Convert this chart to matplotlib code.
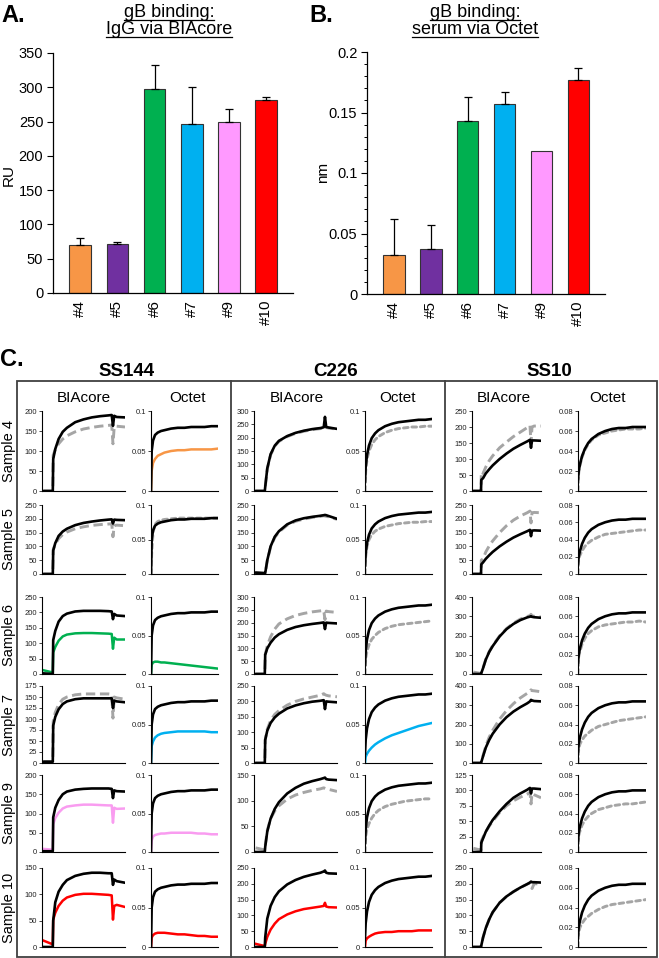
import matplotlib
matplotlib.use("Agg")
import matplotlib.pyplot as plt
from matplotlib.lines import Line2D
from matplotlib.patches import Rectangle
from matplotlib.ticker import MultipleLocator, FormatStrFormatter
import numpy as np

plt.rcParams['font.family'] = ['Liberation Sans', 'DejaVu Sans']

W, H = 659, 958

# ---- panels A / B ----
samples = ['#4', '#5', '#6', '#7', '#9', '#10']
bar_colors = ['#F79646', '#7030A0', '#00B050', '#00B0F0', '#FF99FF', '#FF0000']
biacore_ru = [70, 71, 297, 247, 250, 282]
biacore_err = [10, 3, 35, 53, 19, 4]
octet_nm = [0.032, 0.037, 0.143, 0.157, 0.118, 0.177]
octet_err = [0.030, 0.020, 0.020, 0.010, 0.0, 0.010]

# ---- panel C ----
groups = ['SS144', 'C226', 'SS10']
row_labels = ['Sample 4', 'Sample 5', 'Sample 6', 'Sample 7', 'Sample 9', 'Sample 10']
t_bia = [0.02, 0.13, 0.135, 0.16, 0.2, 0.25, 0.3, 0.4, 0.5, 0.6, 0.7, 0.8, 0.84, 0.855, 0.87, 0.9, 1.0]
t_oct = [0, 0.01, 0.03, 0.06, 0.1, 0.15, 0.2, 0.3, 0.4, 0.5, 0.6, 0.7, 0.8, 0.9, 1.0]

GR = 'gray'
ss144_bia_ymax = [200, 250, 250, 175, 200, 150]
ss144_bia_step = [50, 50, 50, 25, 50, 50]
ss144_bia_ref = [
    [0, 0, 80, 105, 130, 148, 158, 172, 179, 184, 187, 189, 190, 163, 188, 185, 184],
    [0, 0, 85, 112, 138, 154, 164, 177, 185, 190, 194, 197, 198, 183, 197, 196, 195],
    [2, 0, 110, 140, 170, 188, 196, 203, 205, 205, 205, 204, 203, 178, 195, 190, 188],
    [3, 3, 85, 105, 122, 134, 140, 145, 147, 147, 147, 147, 147, 125, 142, 140, 138],
    [2, 2, 90, 115, 135, 150, 157, 162, 164, 165, 165, 165, 164, 140, 160, 158, 157],
    [0, 0, 50, 85, 105, 118, 127, 135, 139, 141, 141, 140, 140, 118, 128, 125, 122],
]
ss144_bia_smp = [
    [0, 0, 90, 103, 118, 130, 138, 148, 155, 159, 162, 164, 165, 118, 160, 162, 160],
    [0, 0, 88, 108, 128, 143, 152, 164, 171, 176, 179, 181, 182, 135, 175, 177, 175],
    [12, 5, 70, 88, 108, 122, 128, 132, 133, 133, 132, 131, 130, 82, 118, 112, 112],
    [3, 3, 95, 115, 133, 145, 150, 155, 157, 157, 157, 157, 156, 102, 150, 148, 145],
    [8, 6, 72, 88, 102, 113, 118, 121, 123, 123, 122, 121, 121, 76, 115, 112, 113],
    [12, 5, 52, 65, 78, 88, 94, 99, 101, 101, 100, 99, 98, 52, 78, 80, 76],
]
ss144_bia_col = [GR, GR, '#00B050', GR, '#F99CF0', '#FF0000']

ss144_oct_ref = [0, 0.05, 0.063, 0.07, 0.073, 0.075, 0.076, 0.078, 0.079, 0.079, 0.08, 0.08, 0.08, 0.081, 0.081]
ss144_oct_smp = [
    [0, 0.025, 0.035, 0.04, 0.044, 0.046, 0.048, 0.05, 0.051, 0.051, 0.052, 0.052, 0.052, 0.052, 0.053],
    [0, 0.03, 0.06, 0.072, 0.076, 0.078, 0.079, 0.08, 0.081, 0.081, 0.081, 0.081, 0.081, 0.081, 0.081],
    [0, 0.012, 0.015, 0.016, 0.016, 0.015, 0.015, 0.014, 0.013, 0.012, 0.011, 0.010, 0.009, 0.008, 0.007],
    [0, 0.022, 0.028, 0.033, 0.036, 0.038, 0.039, 0.04, 0.041, 0.041, 0.041, 0.041, 0.041, 0.040, 0.040],
    [0, 0.015, 0.02, 0.022, 0.023, 0.024, 0.024, 0.025, 0.025, 0.025, 0.025, 0.024, 0.024, 0.023, 0.023],
    [0, 0.012, 0.015, 0.017, 0.018, 0.018, 0.018, 0.017, 0.016, 0.016, 0.015, 0.014, 0.014, 0.013, 0.013],
]
ss144_oct_col = ['#F79646', GR, '#00B050', '#00B0F0', '#F99CF0', '#FF0000']

c226_bia_ymax = [300, 250, 300, 250, 150, 250]
c226_bia_step = [50, 50, 50, 50, 50, 50]
c226_bia_ref = [
    [0, 0, 15, 85, 138, 170, 188, 206, 218, 226, 232, 236, 239, 278, 240, 238, 233],
    [5, 3, 3, 50, 100, 135, 155, 180, 194, 202, 207, 211, 213, 214, 213, 210, 200],
    [0, 0, 75, 100, 122, 142, 155, 172, 183, 190, 195, 199, 201, 175, 200, 199, 197],
    [0, 0, 75, 105, 130, 148, 160, 177, 187, 194, 199, 202, 204, 175, 200, 199, 197],
    [0, 0, 10, 40, 65, 84, 97, 114, 125, 133, 138, 142, 144, 145, 142, 141, 140],
    [0, 0, 30, 90, 130, 158, 176, 198, 212, 222, 229, 235, 239, 242, 235, 233, 232],
]
c226_bia_smp = [
    [0, 0, 15, 82, 135, 168, 186, 204, 216, 224, 230, 234, 237, 245, 238, 236, 232],
    [5, 3, 3, 48, 98, 132, 152, 177, 191, 199, 205, 209, 211, 210, 209, 207, 198],
    [0, 0, 75, 110, 145, 175, 195, 215, 228, 236, 242, 246, 248, 212, 245, 243, 240],
    [0, 0, 75, 110, 138, 158, 170, 188, 200, 208, 214, 220, 225, 222, 220, 218, 215],
    [8, 4, 12, 42, 65, 80, 90, 103, 111, 116, 120, 123, 125, 124, 123, 122, 118],
    [10, 3, 10, 32, 55, 74, 88, 103, 113, 120, 124, 128, 130, 140, 128, 126, 125],
]
c226_bia_col = [GR, GR, GR, GR, GR, '#FF0000']

c226_oct_ref = [0.012, 0.03, 0.045, 0.057, 0.066, 0.072, 0.076, 0.081, 0.084, 0.086, 0.087, 0.088, 0.089, 0.089, 0.09]
c226_oct_smp = [
    [0, 0.025, 0.04, 0.05, 0.058, 0.064, 0.068, 0.073, 0.076, 0.078, 0.079, 0.08, 0.08, 0.081, 0.081],
    [0, 0.025, 0.04, 0.05, 0.057, 0.062, 0.065, 0.069, 0.071, 0.073, 0.074, 0.075, 0.075, 0.076, 0.076],
    [0, 0.02, 0.03, 0.038, 0.045, 0.05, 0.054, 0.059, 0.062, 0.064, 0.065, 0.066, 0.067, 0.068, 0.069],
    [0, 0.008, 0.012, 0.016, 0.02, 0.024, 0.027, 0.032, 0.036, 0.039, 0.042, 0.045, 0.048, 0.05, 0.052],
    [0, 0.02, 0.03, 0.037, 0.044, 0.05, 0.054, 0.059, 0.062, 0.064, 0.066, 0.067, 0.068, 0.069, 0.069],
    [0, 0.008, 0.011, 0.013, 0.015, 0.017, 0.018, 0.019, 0.019, 0.02, 0.02, 0.02, 0.021, 0.021, 0.021],
]
c226_oct_col = [GR, GR, GR, '#00B0F0', GR, '#FF0000']

ss10_bia_ymax = [250, 250, 400, 400, 125, 250]
ss10_bia_step = [50, 50, 100, 100, 25, 50]
ss10_bia_ref = [
    [0, 0, 35, 40, 55, 68, 80, 100, 117, 132, 144, 155, 160, 135, 158, 158, 157],
    [0, 0, 35, 42, 55, 68, 80, 100, 117, 132, 144, 155, 160, 137, 157, 158, 157],
    [0, 0, 5, 30, 75, 115, 145, 195, 233, 260, 280, 294, 298, 300, 297, 295, 292],
    [0, 0, 5, 35, 80, 120, 152, 200, 238, 267, 290, 310, 320, 328, 325, 322, 320],
    [0, 0, 15, 22, 33, 43, 52, 66, 78, 88, 95, 101, 104, 95, 103, 103, 102],
    [0, 0, 5, 30, 60, 88, 110, 140, 160, 175, 188, 199, 204, 207, 205, 205, 204],
]
ss10_bia_smp = [
    [0, 0, 60, 55, 75, 95, 110, 135, 153, 170, 184, 198, 205, 150, 200, 203, 203],
    [0, 0, 50, 55, 80, 102, 120, 150, 175, 195, 210, 222, 228, 185, 222, 223, 222],
    [10, 3, 5, 32, 77, 117, 148, 198, 236, 264, 285, 299, 303, 310, 302, 300, 296],
    [0, 0, 5, 38, 88, 135, 170, 228, 272, 308, 338, 362, 372, 380, 376, 375, 370],
    [6, 3, 18, 24, 33, 42, 50, 64, 75, 83, 89, 94, 97, 78, 95, 93, 88],
    [0, 0, 5, 30, 60, 88, 110, 140, 160, 175, 188, 199, 203, 200, 185, 200, 200],
]
ss10_bia_col = [GR] * 6

ss10_oct_ref = [0.012, 0.02, 0.027, 0.035, 0.042, 0.048, 0.052, 0.057, 0.06, 0.062, 0.063, 0.063, 0.064, 0.064, 0.064]
ss10_oct_smp = [
    [0, 0.018, 0.026, 0.034, 0.041, 0.047, 0.051, 0.056, 0.058, 0.06, 0.061, 0.062, 0.062, 0.062, 0.063],
    [0, 0.018, 0.022, 0.027, 0.032, 0.036, 0.039, 0.043, 0.046, 0.047, 0.048, 0.049, 0.05, 0.051, 0.051],
    [0, 0.018, 0.024, 0.031, 0.037, 0.042, 0.045, 0.049, 0.051, 0.052, 0.053, 0.054, 0.054, 0.055, 0.054],
    [0, 0.015, 0.02, 0.024, 0.028, 0.031, 0.034, 0.038, 0.04, 0.042, 0.044, 0.045, 0.046, 0.047, 0.048],
    [0, 0.017, 0.022, 0.028, 0.033, 0.037, 0.04, 0.044, 0.046, 0.048, 0.049, 0.05, 0.05, 0.051, 0.052],
    [0, 0.015, 0.02, 0.024, 0.028, 0.031, 0.034, 0.038, 0.041, 0.043, 0.044, 0.045, 0.046, 0.047, 0.048],
]
ss10_oct_col = [GR] * 6

fig = plt.figure(figsize=(W / 100, H / 100), dpi=100)


def px_axes(x0, y0, x1, y1):
    return fig.add_axes([x0 / W, 1 - y1 / H, (x1 - x0) / W, (y1 - y0) / H])


def ftext(x, y, s, **kw):
    return fig.text(x / W, 1 - y / H, s, **kw)


def bar_panel(ax, vals, errs, ymax, step):
    x = np.arange(len(vals))
    ax.bar(x, vals, width=0.58, color=bar_colors, edgecolor='#333333', linewidth=0.8, zorder=2)
    idx = [i for i in x if errs[i] > 0]
    ax.errorbar([x[i] for i in idx], [vals[i] for i in idx],
                yerr=[[0] * len(idx), [errs[i] for i in idx]],
                fmt='none', ecolor='black', elinewidth=0.9, capsize=3, capthick=0.9, zorder=3)
    ax.set_xlim(-0.73, 5.72)
    ax.set_ylim(0, ymax)
    ax.yaxis.set_major_locator(MultipleLocator(step))
    ax.set_xticks(x, samples, rotation=90)
    ax.tick_params(axis='x', length=0, pad=5, labelsize=11)
    ax.tick_params(axis='y', length=4, width=0.8, labelsize=10.5, pad=3)
    for s in ['top', 'right']:
        ax.spines[s].set_visible(False)
    for s in ['left', 'bottom']:
        ax.spines[s].set_linewidth(0.9)


axA = px_axes(53, 53, 293, 293)
bar_panel(axA, biacore_ru, biacore_err, 350, 50)
axB = px_axes(367, 52, 605, 294)
bar_panel(axB, octet_nm, octet_err, 0.2, 0.05)
axB.yaxis.set_minor_locator(MultipleLocator(0.01))
axB.tick_params(axis='y', which='minor', length=2.5, width=0.7)
axB.set_yticks([0, 0.05, 0.1, 0.15, 0.2], ['0', '0.05', '0.1', '0.15', '0.2'])

ftext(9, 175, 'RU', rotation=90, ha='center', va='center', fontsize=11)
ftext(323, 172, 'nm', rotation=90, ha='center', va='center', fontsize=11)

ftext(1, 16, 'A.', fontsize=17, fontweight='bold', va='center')
ftext(309, 16, 'B.', fontsize=17, fontweight='bold', va='center')
ftext(0, 360, 'C.', fontsize=17, fontweight='bold', va='center')

title_lines = []
for cx, lines in [(169, ['gB binding:', 'IgG via BIAcore']), (475, ['gB binding:', 'serum via Octet'])]:
    for yb, s in zip([17, 34], lines):
        title_lines.append(ftext(cx, yb, s, ha='center', va='baseline', fontsize=13))

# ---- panel C layout ----
col_x = [(42, 125), (151, 218), (254, 337), (365, 432), (472, 541), (578, 646)]
row_y = [(411, 491), (505, 574), (597, 674), (686, 763), (775, 852), (868, 947)]

columns = [
    ('bia', ss144_bia_ref, ss144_bia_smp, ss144_bia_col, ss144_bia_ymax, ss144_bia_step),
    ('oct', ss144_oct_ref, ss144_oct_smp, ss144_oct_col, [0.1] * 6, [0.05] * 6),
    ('bia', c226_bia_ref, c226_bia_smp, c226_bia_col, c226_bia_ymax, c226_bia_step),
    ('oct', c226_oct_ref, c226_oct_smp, c226_oct_col, [0.1] * 6, [0.05] * 6),
    ('bia', ss10_bia_ref, ss10_bia_smp, ss10_bia_col, ss10_bia_ymax, ss10_bia_step),
    ('oct', ss10_oct_ref, ss10_oct_smp, ss10_oct_col, [0.08] * 6, [0.02] * 6),
]

for c, (kind, ref, smp, cols, ymax, step) in enumerate(columns):
    x0, x1 = col_x[c]
    for r in range(6):
        y0, y1 = row_y[r]
        ax = px_axes(x0, y0, x1, y1)
        t = t_bia if kind == 'bia' else t_oct
        black = ref[r] if kind == 'bia' else ref
        if cols[r] == GR:
            dash = (3.2, 1.6) if kind == 'bia' else (1.6, 1.3)
            ax.plot(t, smp[r], color='#A5A5A5', lw=2.1, dashes=dash,
                    dash_capstyle='round' if kind == 'oct' else 'butt', zorder=2)
        else:
            ax.plot(t, smp[r], color=cols[r], lw=1.8, zorder=2)
        ax.plot(t, black, color='black', lw=1.9, zorder=3)
        ax.set_xlim(0, 1)
        ax.set_ylim(0, ymax[r])
        ax.yaxis.set_major_locator(MultipleLocator(step[r]))
        ax.yaxis.set_major_formatter(FormatStrFormatter('%g'))
        ax.set_xticks([])
        ax.tick_params(axis='y', length=2, width=0.6, pad=1.5, labelsize=5.5, colors='#222222')
        for s in ['top', 'right']:
            ax.spines[s].set_visible(False)
        for s in ['left', 'bottom']:
            ax.spines[s].set_linewidth(0.8)

for r in range(6):
    y0, y1 = row_y[r]
    ftext(9, (y0 + y1) / 2, row_labels[r], rotation=90, ha='center', va='center', fontsize=10.5)

for cx, g in zip([127, 336, 549], groups):
    ftext(cx, 372, g, ha='center', va='center', fontsize=13.5, fontweight='bold')

for cx, s in zip([84, 188, 297, 398, 504, 607], ['BIAcore', 'Octet'] * 3):
    ftext(cx, 398, s, ha='center', va='center', fontsize=11)

box_kw = dict(transform=fig.transFigure, color='#404040', lw=1.3)
fig.add_artist(Rectangle((17 / W, 1 - 957 / H), (657 - 17) / W, (957 - 381) / H,
                         fill=False, ec='#404040', lw=1.3, transform=fig.transFigure))
for xd in [231, 445]:
    fig.add_artist(Line2D([xd / W, xd / W], [1 - 381 / H, 1 - 957 / H], **box_kw))

# underline the two bar-chart titles
fig.canvas.draw()
rend = fig.canvas.get_renderer()
for t in title_lines:
    bb = t.get_window_extent(rend)
    xa, xb = bb.x0 / W, bb.x1 / W
    yb = t.get_position()[1] - 2.5 / H
    fig.add_artist(Line2D([xa, xb], [yb, yb], transform=fig.transFigure, color='black', lw=0.9))

fig.savefig('out.png', dpi=100)
